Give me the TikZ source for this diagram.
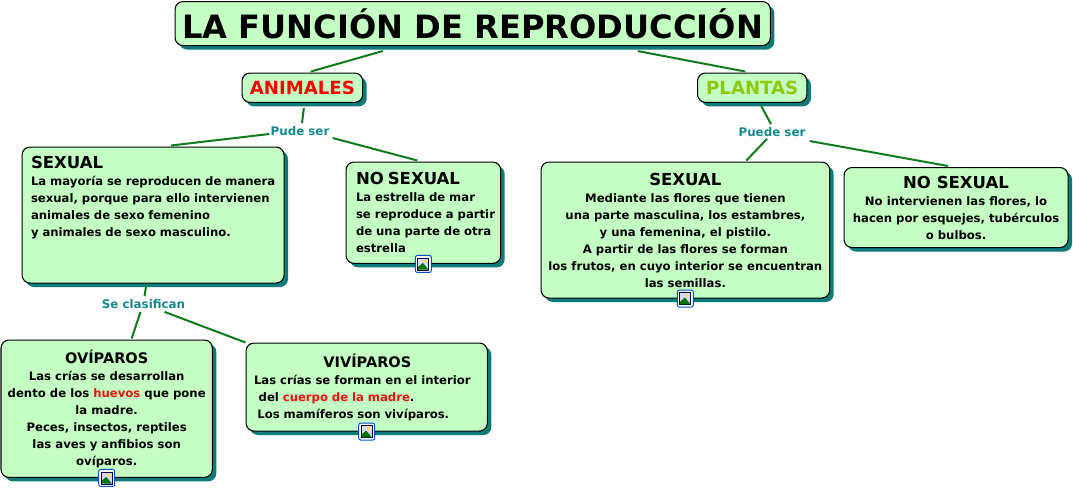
\documentclass[tikz,border=0pt]{standalone}
\usepackage{fontspec}
\setmainfont{DejaVu Sans}
\usetikzlibrary{calc,shadows}
\definecolor{boxgreen}{HTML}{C4FFC4}
\definecolor{boxshadow}{HTML}{0E7B7B}
\definecolor{linkgreen}{HTML}{0F7A1E}
\definecolor{labelteal}{HTML}{148A8A}
\definecolor{plantgreen}{HTML}{8FC80A}
\definecolor{hotred}{HTML}{EE1010}
\newcommand{\headline}[1]{{\fontsize{12.4}{12.75}\selectfont #1}}
\newcommand{\subheadline}[1]{{\fontsize{10.9}{12.75}\selectfont #1}}
\newcommand{\hot}[1]{\textcolor{hotred}{#1}}
\tikzset{
    concept/.style={draw,line width=0.8pt,rounded corners=6pt,fill=boxgreen,inner sep=0pt,anchor=north west,
        font=\bfseries\fontsize{8.75}{12.75}\selectfont,
        drop shadow={shadow xshift=3pt,shadow yshift=-3pt,opacity=1,fill=boxshadow}},
    verb/.style={inner sep=0pt,text=labelteal,font=\bfseries\fontsize{8.9}{10}\selectfont},
    link/.style={draw=linkgreen,line width=1.5pt},
    fotoicon/.pic={
        \draw[blue!60!cyan!80!black,line width=0.7pt,rounded corners=1.5pt,fill=white] (-8,-8.5) rectangle (8,8.5);
        \draw[black!70!blue,line width=0.6pt,fill=blue!15] (-5.5,-6) rectangle (5.5,6);
        \fill[green!45!black] (-5.2,5.7) -- (-5.2,3) -- (-0.5,-1) -- (5.2,5.7) -- cycle;
        \fill[yellow!90!orange] (1.8,-2.8) circle (1.6);
    }
}
\begin{document}
\begin{tikzpicture}[x=0.75pt,y=-0.75pt]
    \useasboundingbox (0,0) rectangle (1073,490);
    % top of the map
    \node[concept,minimum width=446.5pt,minimum height=33pt,font=\bfseries\fontsize{24.1}{24}\selectfont] (funcion) at (174.5,1) {LA FUNCIÓN DE REPRODUCCIÓN};
    \node[concept,minimum width=90.5pt,minimum height=22pt,text=red,font=\bfseries\fontsize{13.6}{13}\selectfont] (animales) at (241.5,72.5) {ANIMALES};
    \node[concept,minimum width=82pt,minimum height=22pt,text=plantgreen,font=\bfseries\fontsize{13.6}{13}\selectfont] (plantas) at (697,72.5) {PLANTAS};

    % animales
    \node[verb] (pude) at (300,131) {Pude ser};
    \node[concept,minimum width=196.5pt,minimum height=102pt,text width=190pt,align=left] (sexa) at (21.5,146.5) {%
        \hspace*{3.5pt}\headline{SEXUAL}\\
        \hspace*{3.5pt}La mayoría se reproducen de manera\\
        \hspace*{3.5pt}sexual, porque para ello intervienen\\
        \hspace*{3.5pt}animales de sexo femenino\\
        \hspace*{3.5pt}y animales de sexo masculino.\\
        \rule{0pt}{25pt}};
    \node[concept,minimum width=116pt,minimum height=76pt,text width=116pt,align=left] (nosexa) at (345.5,161.5) {%
        \hspace*{7.5pt}\headline{NO SEXUAL}\\
        \hspace*{7.5pt}La estrella de mar\\
        \hspace*{7.5pt}se reproduce a partir\\
        \hspace*{7.5pt}de una parte de otra\\
        \hspace*{7.5pt}estrella};
    \node[verb] (clasifican) at (143.5,304) {Se clasifican};
    \node[concept,minimum width=158.5pt,minimum height=103pt,align=center] (ovi) at (0.5,339.5) {%
        \subheadline{OVÍPAROS}\\
        Las crías se desarrollan\\
        dento de los \hot{huevos} que pone\\
        la madre.\\
        Peces, insectos, reptiles\\
        las aves y anfibios son\\
        ovíparos.};
    \node[concept,minimum width=181pt,minimum height=66pt,text width=181pt,align=left] (vivi) at (245.5,342.5) {%
        \hspace*{58pt}\subheadline{VIVÍPAROS}\\
        \hspace*{6pt}Las crías se forman en el interior\\
        \hspace*{9.5pt}del \hot{cuerpo de la madre}.\\
        \hspace*{8.5pt}Los mamíferos son vivíparos.};

    % plantas
    \node[verb] (puede) at (772,132) {Puede ser};
    \node[concept,minimum width=216.5pt,minimum height=102pt,align=center] (sexp) at (540.5,161.5) {%
        \headline{SEXUAL}\\
        Mediante las flores que tienen\\
        una parte masculina, los estambres,\\
        y una femenina, el pistilo.\\
        A partir de las flores se forman\\
        los frutos, en cuyo interior se encuentran\\
        las semillas.};
    \node[concept,minimum width=168pt,minimum height=60pt,align=center] (nosexp) at (843.5,167) {%
        \headline{NO SEXUAL}\\
        No intervienen las flores, lo\\
        hacen por esquejes, tubérculos\\
        o bulbos.};

    \draw[link] ($(funcion.south)+(-90,5)$) -- ($(animales.north)+(8.5,-1)$);
    \draw[link] ($(funcion.south)+(165,5)$) -- ($(plantas.north)+(-7,-1)$);
    \draw[link] ($(animales.south)+(1.5,5)$) -- ($(pude.north)+(2,-3)$);
    \draw[link] ($(pude.west)+(-1,3)$) -- ($(sexa.north)+(18,-1)$);
    \draw[link] ($(pude.east)+(3,7)$) -- ($(nosexa.north)+(-6,-1)$);
    \draw[link] ($(sexa.south)+(-7,3)$) -- ($(clasifican.north)+(1,-3)$);
    \draw[link] ($(clasifican.south)+(-3,3)$) -- ($(ovi.north)+(25,-1)$);
    \draw[link] ($(clasifican.south)+(21,3)$) -- (vivi.north west);
    \draw[link] ($(plantas.south)+(9,3)$) -- ($(puede.north)+(-1,-3)$);
    \draw[link] ($(puede.south)+(-5,2)$) -- ($(sexp.north)+(61,-1)$);
    \draw[link] ($(puede.east)+(4,9)$) -- ($(nosexp.north)+(-8,-1)$);

    \pic at (nosexa.south) {fotoicon};
    \pic at (ovi.south) {fotoicon};
    \pic at (vivi.south) {fotoicon};
    \pic at (sexp.south) {fotoicon};
\end{tikzpicture}
\end{document}
